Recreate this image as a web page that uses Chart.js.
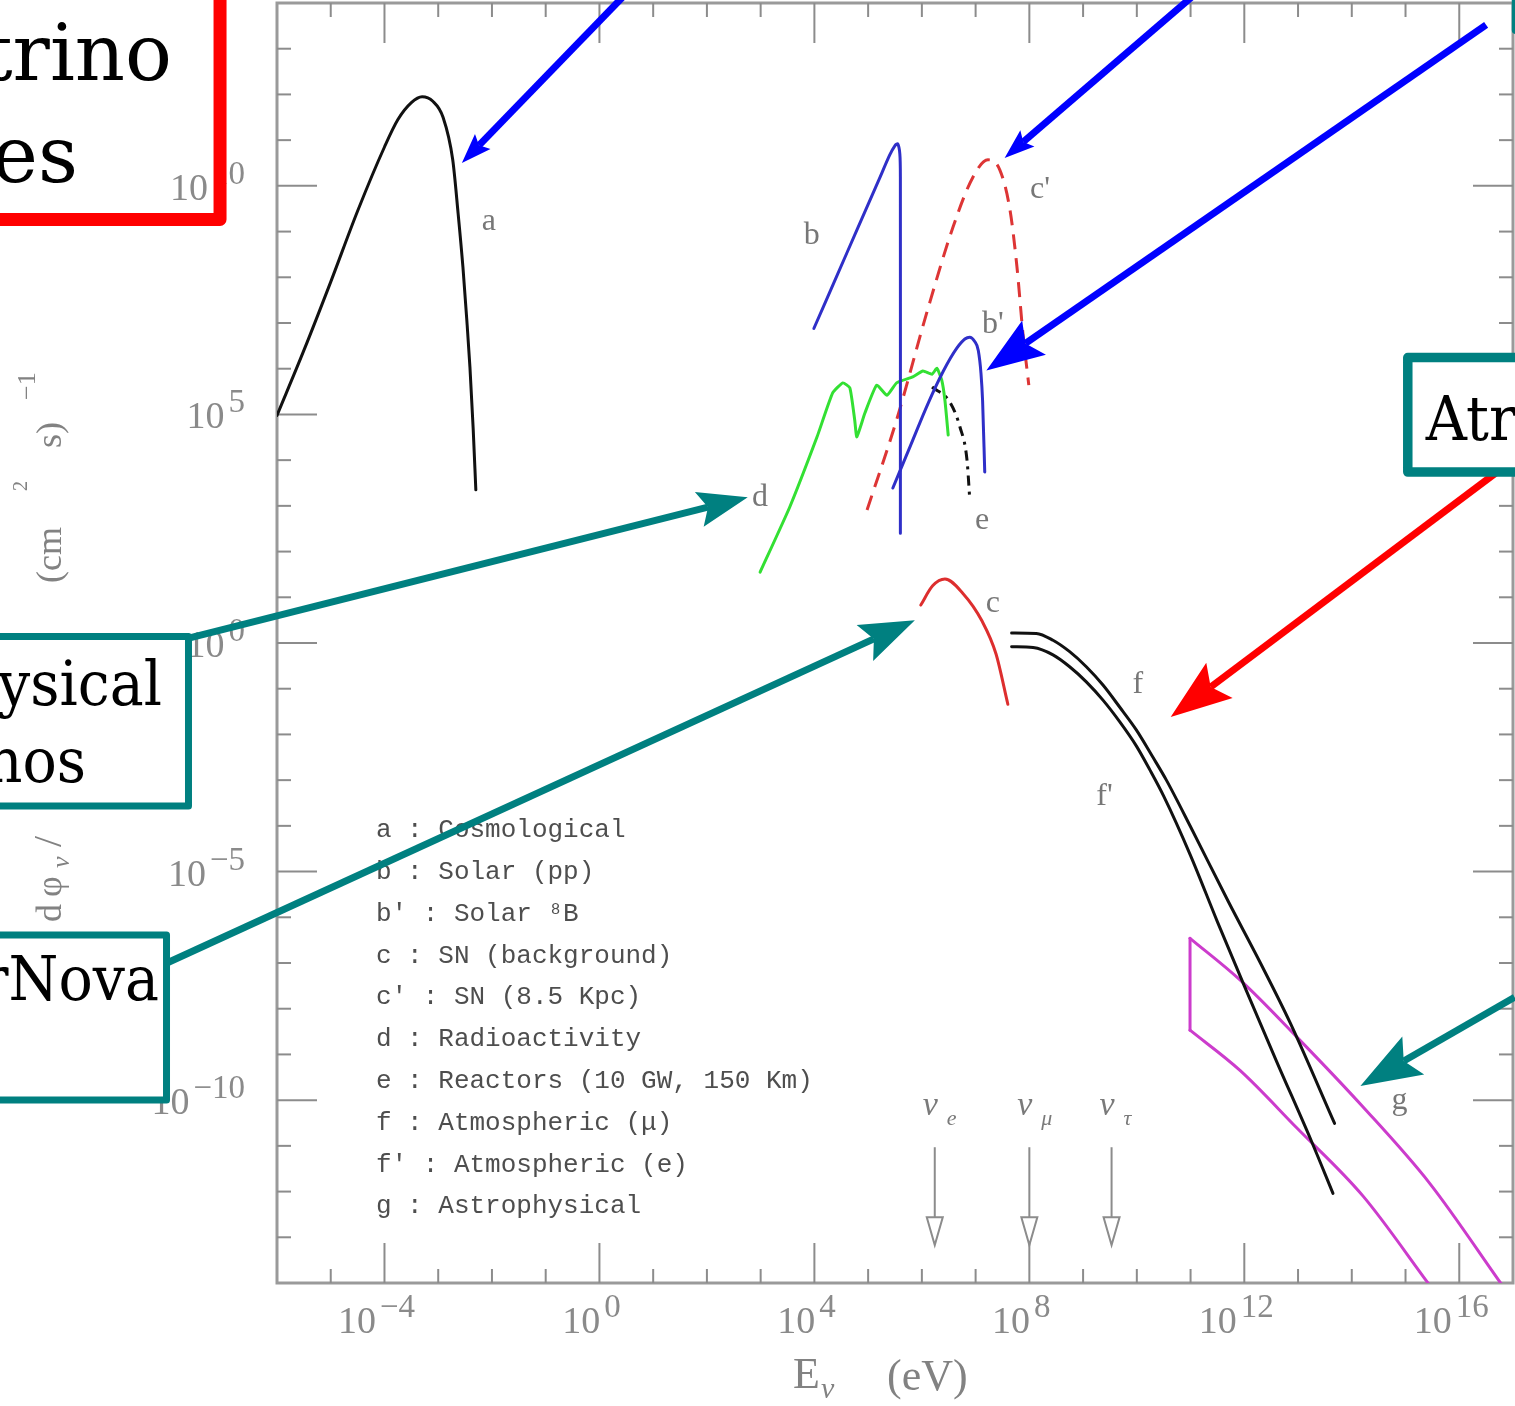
<!DOCTYPE html>
<html>
<head>
<meta charset="utf-8">
<script src="https://cdn.jsdelivr.net/npm/chart.js@4.4.1/dist/chart.umd.min.js"></script>
<style>
  html, body { margin: 0; padding: 0; background: #ffffff; }
</style>
</head>
<body>
<canvas id="fluxChart" width="1515" height="1406"></canvas>
<script>
(function () {
  "use strict";

  // axes, in powers of ten
  const xRange = [-6, 17];
  const yRange = [-14, 14];
  const xMajor = [-4, 0, 4, 8, 12, 16];
  const yMajor = [-10, -5, 0, 5, 10];

  // curves : log10(E / eV) and log10(flux)
  const aLogE = [-6.0, -5.5, -5.0, -4.5, -4.0, -3.75, -3.5, -3.3, -3.1, -2.91, -2.73, -2.63, -2.54, -2.47, -2.41, -2.35, -2.3];
  const aLogF = [4.98, 6.4, 7.9, 9.45, 10.85, 11.45, 11.82, 11.95, 11.85, 11.5, 10.57, 9.4, 8.22, 7.1, 6.04, 4.7, 3.35];

  const bLogE = [3.99, 4.4, 4.8, 5.2, 5.4, 5.5, 5.55, 5.59, 5.6, 5.6];
  const bLogF = [6.88, 7.98, 9.06, 10.13, 10.67, 10.88, 10.92, 10.7, 10.2, 2.4];

  const bpLogE = [5.46, 5.8, 6.1, 6.4, 6.65, 6.8, 6.89, 6.98, 7.05, 7.1, 7.13, 7.17];
  const bpLogF = [3.39, 4.35, 5.2, 5.95, 6.45, 6.65, 6.69, 6.6, 6.4, 5.9, 5.3, 3.74];

  const cLogE = [5.98, 6.2, 6.43, 6.76, 7.12, 7.38, 7.6];
  const cLogF = [0.83, 1.25, 1.4, 1.09, 0.48, -0.24, -1.34];

  const cpLogE = [4.98, 5.53, 6.09, 6.58, 6.95, 7.23, 7.45, 7.64, 7.77, 7.88, 7.99];
  const cpLogF = [2.91, 4.88, 7.22, 9.1, 10.19, 10.57, 10.35, 9.47, 8.22, 6.78, 5.64];

  const dLogE = [2.99, 3.54, 4.05, 4.34, 4.53, 4.66, 4.75, 4.79, 4.94, 5.16, 5.35, 5.53, 5.83, 6.02, 6.19, 6.28, 6.37, 6.43, 6.49];
  const dLogF = [1.55, 2.97, 4.51, 5.47, 5.69, 5.58, 4.88, 4.51, 5.03, 5.64, 5.42, 5.69, 5.82, 5.95, 5.88, 6.01, 5.75, 5.3, 4.55];

  const eLogE = [6.19, 6.52, 6.71, 6.84, 6.89];
  const eLogF = [5.6, 5.27, 4.72, 4.0, 3.17];

  const fLogE = [7.67, 8.13, 8.44, 8.75, 9.06, 9.37, 9.68, 9.99, 10.3, 10.55, 11.0, 11.7, 12.3, 12.85, 13.68];
  const fLogF = [0.22, 0.21, 0.06, -0.19, -0.52, -0.92, -1.4, -1.9, -2.5, -3.0, -4.02, -5.65, -7.0, -8.3, -10.51];

  const fpLogE = [7.67, 8.07, 8.44, 8.75, 9.06, 9.37, 9.68, 9.99, 10.24, 10.5, 11.0, 11.5, 12.0, 12.6, 13.25, 13.65];
  const fpLogF = [-0.08, -0.1, -0.26, -0.52, -0.85, -1.25, -1.72, -2.25, -2.77, -3.35, -4.65, -6.1, -7.5, -9.15, -10.9, -12.04];

  // astrophysical band : lower and upper edges
  const gLowLogE = [10.99, 11.92, 12.97, 14.21, 15.45];
  const gLowLogF = [-8.47, -9.35, -10.6, -12.1, -14.05];
  const gUpLogE = [10.99, 11.92, 12.97, 14.21, 15.45, 16.8];
  const gUpLogF = [-6.46, -7.37, -8.61, -10.15, -11.82, -14.05];

  // curve tags
  const tagText = ['a', 'b', "c'", "b'", 'd', 'e', 'c', 'f', "f'", 'g'];
  const tagLogE = [-2.06, 3.95, 8.2, 7.32, 2.99, 7.12, 7.32, 10.02, 9.4, 14.89];
  const tagLogF = [9.21, 8.92, 9.91, 6.96, 3.19, 2.67, 0.87, -0.92, -3.37, -10.0];

  // legend block
  const legendKeys = ['a', 'b', "b'", 'c', "c'", 'd', 'e', 'f', "f'", 'g'];
  const legendNames = ['Cosmological', 'Solar (pp)', 'Solar \u2078B', 'SN (background)', 'SN (8.5 Kpc)',
    'Radioactivity', 'Reactors (10 GW, 150 Km)', 'Atmospheric (\u03bc)', 'Atmospheric (e)', 'Astrophysical'];
  const legendAnchor = [-4.16, -4.25];

  // flavour thresholds at the bottom
  const nuLogE = [6.24, 8.0, 9.53];
  const nuFlavour = ['e', '\u03bc', '\u03c4'];

  // annotation arrows : tail and tip in data units
  const arrowTail = [[0.474, 14.18], [11.02, 14.13], [16.5, 13.52], [-7.9, 0.03], [-8.363, -7.17], [16.85, 3.87], [17.03, -7.75]];
  const arrowTip = [[-2.56, 10.5], [7.54, 10.61], [7.2, 5.96], [2.76, 3.19], [5.87, 0.5], [10.63, -1.62], [14.16, -9.69]];
  const arrowColor = ['#0000ff', '#0000ff', '#0000ff', '#008080', '#008080', '#ff0000', '#008080'];
  const arrowHead = [30, 30, 58, 50, 55, 61, 61];

  // annotation boxes : [x1, x2, y1, y2] in data units
  const boxRect = [[-11.5, -7.06, 14.5, 9.264], [-11.5, -7.647, 0.141, -3.567], [-11.5, -8.056, -6.389, -9.999],
    [15.042, 18.5, 6.245, 3.74], [17.051, 18.5, 14.6, 13.41]];
  const boxColor = ['#ff0000', '#008080', '#008080', '#008080', '#008080'];
  const boxWidth = [13, 7, 7, 9.5, 8];
  const boxFilled = [false, true, true, true, true];

  // visible parts of the box captions
  const noteText = ['trino', 'es', 'ysical', 'nos', 'rNova', 'Atr'];
  const noteLogE = [-7.953, -9.702, -8.14, -9.553, -8.195, 15.377];
  const noteLogF = [12.315, 10.084, -1.358, -3.042, -7.811, 4.44];
  const noteAlign = ['right', 'right', 'right', 'right', 'right', 'left'];

  const serif = '"Liberation Serif", "DejaVu Serif", serif';
  const boxSerif = '"DejaVu Serif", serif';

  function pts(xs, ys) {
    return xs.map(function (v, i) { return { x: v, y: ys[i] }; });
  }

  // smooth curve through the read points (monotone cubic along E)
  function curve(label, data, color, extra) {
    return Object.assign({
      label: label,
      data: data,
      showLine: true,
      borderColor: color,
      backgroundColor: color,
      borderWidth: 3,
      pointRadius: 0,
      cubicInterpolationMode: 'monotone',
      borderCapStyle: 'round',
      borderJoinStyle: 'round',
      fill: false
    }, extra || {});
  }

  const gLow = pts(gLowLogE, gLowLogF);
  const gUp = pts(gUpLogE, gUpLogF);
  const magenta = '#cc3ccc';

  const datasets = [
    curve('a', pts(aLogE, aLogF), '#111111'),
    curve('b', pts(bLogE, bLogF), '#2f2fc8', { cubicInterpolationMode: 'default', tension: 0.25 }),
    curve("b'", pts(bpLogE, bpLogF), '#2f2fc8'),
    curve('c', pts(cLogE, cLogF), '#dd2e2e'),
    curve("c'", pts(cpLogE, cpLogF), '#dd3535', { borderDash: [15, 9], borderCapStyle: 'butt' }),
    curve('d', pts(dLogE, dLogF), '#33e033', { cubicInterpolationMode: 'default', tension: 0.15 }),
    curve('e', pts(eLogE, eLogF), '#111111', { borderDash: [10, 6, 3, 6], borderCapStyle: 'butt' }),
    curve('f', pts(fLogE, fLogF), '#111111'),
    curve("f'", pts(fpLogE, fpLogF), '#111111'),
    curve('g low', gLow, magenta),
    curve('g up', gUp, magenta),
    curve('g edge', [gLow[0], gUp[0]], magenta, { cubicInterpolationMode: 'default', tension: 0 })
  ];

  function line(ctx, x1, y1, x2, y2) {
    ctx.beginPath(); ctx.moveTo(x1, y1); ctx.lineTo(x2, y2); ctx.stroke();
  }

  function expText(n) {
    return n < 0 ? '\u2212' + Math.abs(n) : String(n);
  }

  // "10^n" tick label
  function powerLabel(ctx, n, x, y, align) {
    ctx.font = '38px ' + serif;
    const w1 = ctx.measureText('10').width;
    ctx.font = '33px ' + serif;
    const w2 = ctx.measureText(expText(n)).width;
    const total = w1 + 4 + w2;
    const start = align === 'center' ? x - total / 2 : x - total;
    ctx.textAlign = 'left';
    ctx.font = '38px ' + serif;
    ctx.fillText('10', start, y);
    ctx.font = '33px ' + serif;
    ctx.fillText(expText(n), start + w1 + 4, y - 16);
  }

  function drawArrow(ctx, x1, y1, x2, y2, color, headLen) {
    const dx = x2 - x1, dy = y2 - y1, len = Math.hypot(dx, dy);
    const ux = dx / len, uy = dy / len, nx = -uy, ny = ux;
    const half = headLen * 0.36;
    const bx = x2 - ux * headLen, by = y2 - uy * headLen;
    const notch = headLen * 0.82;
    ctx.strokeStyle = color;
    ctx.lineWidth = 7;
    ctx.lineCap = 'butt';
    line(ctx, x1, y1, x2 - ux * notch, y2 - uy * notch);
    ctx.fillStyle = color;
    ctx.beginPath();
    ctx.moveTo(x2, y2);
    ctx.lineTo(bx + nx * half, by + ny * half);
    ctx.lineTo(x2 - ux * notch, y2 - uy * notch);
    ctx.lineTo(bx - nx * half, by - ny * half);
    ctx.closePath();
    ctx.fill();
  }

  // frame, inward ticks, tick labels, axis titles, legend, flavour arrows
  const frame = {
    id: 'frame',
    beforeDatasetsDraw: function (chart) {
      const ctx = chart.ctx;
      const xs = chart.scales.x, ys = chart.scales.y;
      const a = chart.chartArea;
      ctx.save();
      ctx.strokeStyle = '#9a9a9a';
      ctx.lineWidth = 3;
      ctx.strokeRect(a.left, a.top, a.right - a.left, a.bottom - a.top);

      ctx.strokeStyle = '#8c8c8c';
      ctx.lineWidth = 2;
      for (let v = xRange[0] + 1; v < xRange[1]; v++) {
        const p = xs.getPixelForValue(v);
        const len = xMajor.indexOf(v) >= 0 ? 40 : 14;
        line(ctx, p, a.bottom, p, a.bottom - len);
        line(ctx, p, a.top, p, a.top + len);
      }
      for (let v = yRange[0] + 1; v < yRange[1]; v++) {
        const p = ys.getPixelForValue(v);
        const len = yMajor.indexOf(v) >= 0 ? 40 : 14;
        line(ctx, a.left, p, a.left + len, p);
        line(ctx, a.right, p, a.right - len, p);
      }

      ctx.fillStyle = '#8a8a8a';
      ctx.textBaseline = 'alphabetic';
      xMajor.forEach(function (v) {
        powerLabel(ctx, v, xs.getPixelForValue(v) - 8, a.bottom + 50, 'center');
      });
      yMajor.forEach(function (v) {
        powerLabel(ctx, v, a.left - 32, ys.getPixelForValue(v) + 14, 'right');
      });

      // x title
      ctx.fillStyle = '#828282';
      ctx.textAlign = 'left';
      ctx.font = '44px ' + serif;
      ctx.fillText('E', a.left + 516, a.bottom + 105);
      ctx.font = 'italic 30px ' + serif;
      ctx.fillText('\u03bd', a.left + 544, a.bottom + 115);
      ctx.font = '44px ' + serif;
      ctx.fillText('(eV)', a.left + 610, a.bottom + 107);

      // y title, rotated
      ctx.save();
      ctx.translate(a.left - 216, 922);
      ctx.rotate(-Math.PI / 2);
      ctx.font = '36px ' + serif;
      ctx.fillText('d', 0, 0);
      ctx.fillText('\u03c6', 25, 0);
      ctx.font = 'italic 26px ' + serif;
      ctx.fillText('\u03bd', 54, 8);
      ctx.font = '40px ' + serif;
      ctx.fillText('/', 75, 0);
      ctx.font = '36px ' + serif;
      ctx.fillText('dE', 120, 0);
      ctx.fillText('(cm', 339, 0);
      ctx.font = '20px ' + serif;
      ctx.fillText('2', 431, -34);
      ctx.font = '36px ' + serif;
      ctx.fillText('s)', 474, 0);
      ctx.font = '26px ' + serif;
      ctx.fillText('\u22121', 522, -26);
      ctx.restore();

      // legend
      const lx = xs.getPixelForValue(legendAnchor[0]);
      const ly = ys.getPixelForValue(legendAnchor[1]);
      ctx.fillStyle = '#4e4e4e';
      ctx.font = '26px "Liberation Mono", "DejaVu Sans Mono", monospace';
      legendKeys.forEach(function (k, i) {
        ctx.fillText(k + ' : ' + legendNames[i], lx, ly + i * 41.8);
      });

      // flavour markers
      const yTop = ys.getPixelForValue(-11.03);
      const yHead = ys.getPixelForValue(-12.56);
      const yTipA = ys.getPixelForValue(-13.17);
      ctx.strokeStyle = '#8c8c8c';
      ctx.fillStyle = '#7a7a7a';
      ctx.lineWidth = 2;
      nuLogE.forEach(function (v, i) {
        const p = xs.getPixelForValue(v);
        line(ctx, p, yTop, p, yHead);
        ctx.beginPath();
        ctx.moveTo(p - 8, yHead);
        ctx.lineTo(p + 8, yHead);
        ctx.lineTo(p, yTipA);
        ctx.closePath();
        ctx.stroke();
        ctx.font = 'italic 34px ' + serif;
        ctx.fillText('\u03bd', p - 12, yTop - 32);
        ctx.font = 'italic 22px ' + serif;
        ctx.fillText(nuFlavour[i], p + 12, yTop - 22);
      });
      ctx.restore();
    },

    afterDatasetsDraw: function (chart) {
      const ctx = chart.ctx;
      const xs = chart.scales.x, ys = chart.scales.y;
      ctx.save();

      // curve tags
      ctx.fillStyle = '#777777';
      ctx.font = '32px ' + serif;
      ctx.textAlign = 'center';
      ctx.textBaseline = 'middle';
      tagText.forEach(function (t, i) {
        ctx.fillText(t, xs.getPixelForValue(tagLogE[i]), ys.getPixelForValue(tagLogF[i]));
      });

      // arrows
      arrowTail.forEach(function (t, i) {
        drawArrow(ctx,
          xs.getPixelForValue(t[0]), ys.getPixelForValue(t[1]),
          xs.getPixelForValue(arrowTip[i][0]), ys.getPixelForValue(arrowTip[i][1]),
          arrowColor[i], arrowHead[i]);
      });

      // boxes
      ctx.lineJoin = 'round';
      boxRect.forEach(function (r, i) {
        const x1 = xs.getPixelForValue(r[0]), x2 = xs.getPixelForValue(r[1]);
        const y1 = ys.getPixelForValue(r[2]), y2 = ys.getPixelForValue(r[3]);
        if (boxFilled[i]) {
          ctx.fillStyle = '#ffffff';
          ctx.fillRect(x1, y1, x2 - x1, y2 - y1);
        }
        ctx.strokeStyle = boxColor[i];
        ctx.lineWidth = boxWidth[i];
        ctx.strokeRect(x1, y1, x2 - x1, y2 - y1);
      });

      // captions
      ctx.fillStyle = '#000000';
      ctx.textBaseline = 'alphabetic';
      noteText.forEach(function (t, i) {
        ctx.save();
        ctx.translate(xs.getPixelForValue(noteLogE[i]), ys.getPixelForValue(noteLogF[i]));
        if (i >= 2) ctx.scale(0.92, 1);
        ctx.font = (i < 2 ? '78px ' : '62px ') + boxSerif;
        ctx.textAlign = noteAlign[i];
        ctx.fillText(t, 0, 0);
        ctx.restore();
      });
      ctx.restore();
    }
  };

  const ctx = document.getElementById('fluxChart').getContext('2d');
  new Chart(ctx, {
    type: 'scatter',
    data: { datasets: datasets },
    options: {
      responsive: false,
      devicePixelRatio: 1,
      animation: false,
      layout: { padding: { left: 277, top: 3, right: 2, bottom: 123 } },
      scales: {
        x: { type: 'linear', min: xRange[0], max: xRange[1], display: false },
        y: { type: 'linear', min: yRange[0], max: yRange[1], display: false }
      },
      plugins: {
        legend: { display: false },
        tooltip: { enabled: false }
      },
      events: []
    },
    plugins: [frame]
  });
})();
</script>
</body>
</html>
